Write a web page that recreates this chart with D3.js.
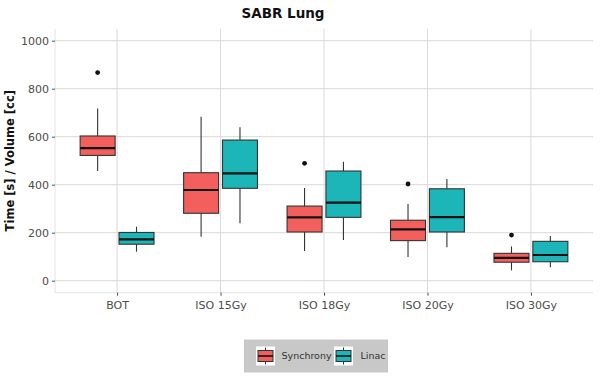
<!DOCTYPE html>
<html><head><meta charset="utf-8">
<script src="https://cdn.jsdelivr.net/npm/d3@7"></script>
<style>body{margin:0;background:#fff}svg{display:block}</style>
</head><body>
<script>
const categories = ["BOT","ISO 15Gy","ISO 18Gy","ISO 20Gy","ISO 30Gy"];
const seriesNames = ["Synchrony","Linac"];
const seriesColors = ["#F35F5C","#1CB5B8"];
// box statistics per category: [whiskerLow, q1, median, q3, whiskerHigh]
const synchronyLow    = [457, 183, 124,  99,  43];
const synchronyQ1     = [522, 281, 203, 167,  77];
const synchronyMedian = [552, 378, 264, 214,  95];
const synchronyQ3     = [603, 450, 311, 252, 114];
const synchronyHigh   = [717, 683, 386, 320, 143];
const synchronyOutliers = [[867], [], [489], [403], [190]];
const linacLow    = [121, 239, 170, 139,  56];
const linacQ1     = [152, 385, 264, 203,  79];
const linacMedian = [172, 447, 325, 265, 107];
const linacQ3     = [201, 586, 457, 383, 164];
const linacHigh   = [225, 639, 496, 424, 186];
const linacOutliers = [[], [], [], [], []];
const yTicks = [0, 200, 400, 600, 800, 1000];

const W = 600, H = 379;
const panel = {left: 55, right: 593, top: 28.7, bottom: 292.7};
const font = "'DejaVu Sans', Verdana, sans-serif";

const svg = d3.select("body").append("svg").attr("width", W).attr("height", H)
  .style("font-family", font);

const y = d3.scaleLinear().domain([-50, 1050]).range([panel.bottom, panel.top]);
const x = d3.scalePoint().domain(categories).range([panel.left, panel.right]).padding(0.6);
const step = x.step();
const dodge = d3.scaleBand().domain(seriesNames).range([-0.357*step, 0.357*step]).paddingInner(0.1);

// gridlines
const g = svg.append("g");
g.selectAll("line.hy").data(yTicks).join("line")
  .attr("x1", panel.left).attr("x2", panel.right)
  .attr("y1", d => y(d)).attr("y2", d => y(d))
  .attr("stroke", "#D9D9D9").attr("stroke-width", 1);
g.selectAll("line.vx").data(categories).join("line")
  .attr("x1", d => x(d)).attr("x2", d => x(d))
  .attr("y1", panel.top).attr("y2", panel.bottom)
  .attr("stroke", "#D9D9D9").attr("stroke-width", 1);

// axis lines (light)
svg.append("line").attr("x1", panel.left).attr("x2", panel.left)
  .attr("y1", panel.top).attr("y2", panel.bottom).attr("stroke", "#E3E3E3");
svg.append("line").attr("x1", panel.left).attr("x2", panel.right)
  .attr("y1", panel.bottom).attr("y2", panel.bottom).attr("stroke", "#E3E3E3");

// axes
const yAxis = d3.axisLeft(y).tickValues(yTicks).tickFormat(d3.format("d")).tickSize(3).tickPadding(3);
const ya = svg.append("g").attr("transform", `translate(${panel.left},0)`).call(yAxis);
const xAxis = d3.axisBottom(x).tickSize(3).tickPadding(6);
const xa = svg.append("g").attr("transform", `translate(0,${panel.bottom})`).call(xAxis);
[ya, xa].forEach(a => {
  a.select(".domain").remove();
  a.selectAll(".tick line").attr("stroke", "#4D4D4D");
  a.selectAll(".tick text").attr("fill", "#4D4D4D").style("font-size", "11px").style("font-family", font);
});

// boxes
const seriesData = [
  {name: "Synchrony", low: synchronyLow, q1: synchronyQ1, med: synchronyMedian, q3: synchronyQ3, high: synchronyHigh, out: synchronyOutliers},
  {name: "Linac", low: linacLow, q1: linacQ1, med: linacMedian, q3: linacQ3, high: linacHigh, out: linacOutliers}
];
const bw = dodge.bandwidth();
seriesData.forEach((s, si) => {
  const grp = svg.append("g");
  categories.forEach((c, i) => {
    const cx = x(c) + dodge(s.name) + bw/2;
    grp.append("line").attr("x1", cx).attr("x2", cx)
      .attr("y1", y(s.high[i])).attr("y2", y(s.q3[i])).attr("stroke", "#333").attr("stroke-width", 1.1);
    grp.append("line").attr("x1", cx).attr("x2", cx)
      .attr("y1", y(s.q1[i])).attr("y2", y(s.low[i])).attr("stroke", "#333").attr("stroke-width", 1.1);
    grp.append("rect").attr("x", cx - bw/2).attr("width", bw)
      .attr("y", y(s.q3[i])).attr("height", y(s.q1[i]) - y(s.q3[i]))
      .attr("fill", seriesColors[si]).attr("stroke", "#333").attr("stroke-width", 1.1);
    grp.append("line").attr("x1", cx - bw/2).attr("x2", cx + bw/2)
      .attr("y1", y(s.med[i])).attr("y2", y(s.med[i])).attr("stroke", "#111").attr("stroke-width", 2.2);
    s.out[i].forEach(o => {
      grp.append("circle").attr("cx", cx).attr("cy", y(o)).attr("r", 2.4).attr("fill", "#111");
    });
  });
});

// title
svg.append("text").attr("x", 283).attr("y", 17.5).attr("text-anchor", "middle")
  .style("font-size", "13.5px").style("font-weight", "bold").attr("fill", "#111").text("SABR Lung");

// y title
svg.append("text").attr("transform", `translate(14,${(panel.top+panel.bottom)/2}) rotate(-90)`)
  .attr("text-anchor", "middle").style("font-size", "11.5px").style("font-weight", "bold")
  .attr("fill", "#111").text("Time [s] / Volume [cc]");

// legend
const lg = svg.append("g");
lg.append("rect").attr("x", 244).attr("y", 339.5).attr("width", 144).attr("height", 33).attr("fill", "#C8C8C8");
const keyX = [256, 334], textX = [281.5, 360.5];
seriesNames.forEach((n, i) => {
  const kx = keyX[i], ky = 346.5, ks = 19;
  lg.append("rect").attr("x", kx).attr("y", ky).attr("width", ks).attr("height", ks).attr("fill", "#fff");
  const cx = kx + ks/2;
  lg.append("line").attr("x1", cx).attr("x2", cx).attr("y1", ky + 1).attr("y2", ky + ks - 1).attr("stroke", "#333");
  lg.append("rect").attr("x", kx + 2).attr("y", ky + 4).attr("width", ks - 4).attr("height", ks - 8)
    .attr("fill", seriesColors[i]).attr("stroke", "#333").attr("stroke-width", 1);
  lg.append("line").attr("x1", kx + 2).attr("x2", kx + ks - 2).attr("y1", ky + ks/2).attr("y2", ky + ks/2)
    .attr("stroke", "#111").attr("stroke-width", 1.6);
  lg.append("text").attr("x", textX[i]).attr("y", ky + ks/2).attr("dy", "0.35em")
    .style("font-size", "9.5px").attr("fill", "#333").text(n);
});
</script>
</body></html>
